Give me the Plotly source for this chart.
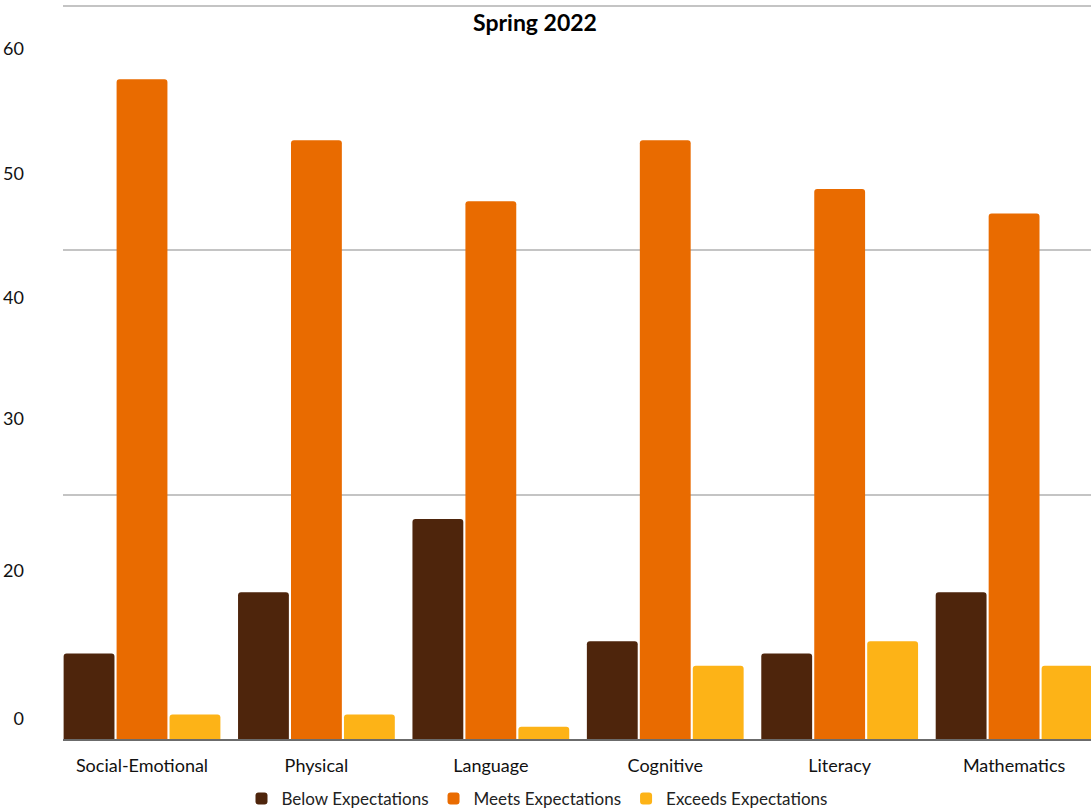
import plotly.graph_objects as go

# Domains assessed
domains = ["Social-Emotional", "Physical", "Language", "Cognitive", "Literacy", "Mathematics"]

# Number of students per rating
below = [7, 12, 18, 8, 7, 12]
meets = [54, 49, 44, 49, 45, 43]
exceeds = [2, 2, 1, 6, 8, 6]

# Left-hand axis labels and where they sit on the value scale
y_tick_text = ["60", "50", "40", "30", "20", "0"]
y_tick_pos = [56.5, 46.3, 36.1, 26.2, 13.8, 1.7]

series = [
    ("Below Expectations", below, "#4E250C"),
    ("Meets Expectations", meets, "#E96B00"),
    ("Exceeds Expectations", exceeds, "#FDB317"),
]

fig = go.Figure()
for name, vals, color in series:
    fig.add_trace(go.Bar(
        x=domains, y=vals, name=name,
        marker=dict(color=color, line=dict(width=0)),
    ))

# invisible trace to carry the secondary label axis
fig.add_trace(go.Scatter(x=[domains[0]], y=[0], yaxis="y2", mode="markers",
                         marker=dict(opacity=0), showlegend=False, hoverinfo="skip"))

font_family = "Lato, 'Open Sans', sans-serif"
y_max = 60.15

fig.update_layout(
    width=1091, height=811,
    margin=dict(l=63, r=0, t=4, b=72, autoexpand=False),
    paper_bgcolor="white", plot_bgcolor="white",
    barmode="group", bargap=0.089, bargroupgap=0.04,
    barcornerradius=3,
    font=dict(family=font_family, color="#111111"),
    title=dict(text="<b>Spring 2022</b>", x=535 / 1091, xanchor="center",
               y=1 - 23 / 811, yanchor="middle",
               font=dict(size=23, family=font_family, color="#000000")),
    xaxis=dict(
        type="category", range=[-0.453, 5.441],
        showgrid=False, showline=True, linecolor="#6b6b6b", linewidth=2,
        ticks="", tickfont=dict(size=18, color="#111111"), ticklabelstandoff=9,
    ),
    yaxis=dict(
        range=[0, y_max], dtick=20, showgrid=True, gridcolor="#c4c4c4", gridwidth=1.5,
        zeroline=False, showticklabels=False, ticks="",
    ),
    yaxis2=dict(
        range=[0, y_max], overlaying="y", side="left", anchor="x",
        tickmode="array", tickvals=y_tick_pos, ticktext=y_tick_text,
        showgrid=False, zeroline=False, showline=False, ticks="",
        tickfont=dict(size=18, color="#111111"), ticklabelstandoff=38,
    ),
    legend=dict(orientation="h", x=(537 - 63) / 1028, xanchor="center",
                y=-60 / 735, yanchor="middle",
                font=dict(size=17, color="#222222"),
                itemwidth=30, tracegroupgap=0),
    showlegend=True,
)

fig.write_html("out.html")
